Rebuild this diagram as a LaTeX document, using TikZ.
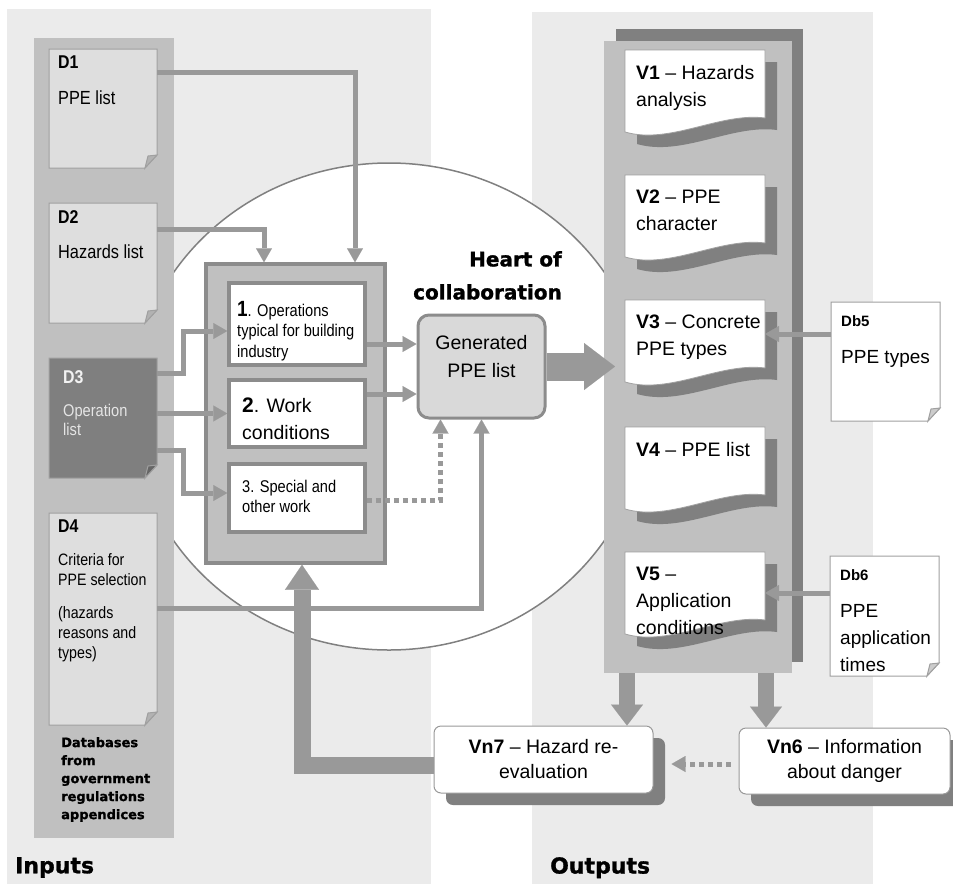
\documentclass[tikz,border=0pt]{standalone}
\usepackage{fontspec}
\setmainfont{Liberation Sans}
\newfontfamily\narrowfont{Liberation Sans}[FakeStretch=0.86]
\newfontfamily\heavyfont{DejaVu Sans Bold}[FakeBold=1.2]
\usetikzlibrary{arrows.meta,shadows}

\definecolor{panelgray}{HTML}{EBEBEB}
\definecolor{colgray}{HTML}{C0C0C0}
\definecolor{docgray}{HTML}{DEDEDE}
\definecolor{darkdoc}{HTML}{7F7F7F}
\definecolor{edgegray}{HTML}{A0A0A0}
\definecolor{framegray}{HTML}{8C8C8C}
\definecolor{arrowgray}{HTML}{999999}
\definecolor{shadegray}{HTML}{808080}
\definecolor{gengray}{HTML}{D9D9D9}

\tikzset{
  pagebox/.style={inner sep=0pt, outer sep=0pt},
  pageedge/.style={draw=edgegray, line width=1pt},
  vedge/.style={draw=edgegray, line width=0.8pt, fill=white},
  dlabel/.style={anchor=north west, inner sep=0pt, font=\narrowfont\bfseries\fontsize{18.5}{19}\selectfont},
  dbody/.style={anchor=north west, inner sep=0pt, align=left, font=\narrowfont\fontsize{19}{21}\selectfont},
  vtext/.style={anchor=north west, inner sep=0pt, align=left, font=\fontsize{19.5}{27}\selectfont},
  dblabel/.style={anchor=north west, inner sep=0pt, font=\bfseries\fontsize{15}{17}\selectfont},
  dbbody/.style={anchor=north west, inner sep=0pt, align=left, font=\fontsize{19}{27}\selectfont},
  opsbox/.style={draw=framegray, fill=colgray, line width=3.5pt, inner sep=0pt},
  stepbox/.style={draw=framegray, fill=white, line width=3.5pt, inner sep=0pt},
  genbox/.style={draw=framegray, fill=gengray, line width=3pt, rounded corners=11pt, inner sep=0pt},
  vnbox/.style={draw=arrowgray, fill=white, line width=1pt, rounded corners=7pt, align=center,
    font=\fontsize{19.5}{25}\selectfont,
    drop shadow={shadow xshift=12pt, shadow yshift=-12pt, fill=shadegray, opacity=1}},
  heavy/.style={anchor=north west, inner sep=0pt, font=\heavyfont\fontsize{22}{24}\selectfont},
  feed/.style={draw=arrowgray, line width=5pt,
    -{Triangle[length=14pt, width=16pt, line width=0.1pt]}},
  dotfeed/.style={feed, dash pattern=on 5pt off 4pt},
  bigarrow/.style={draw=arrowgray, line width=28pt,
    -{Triangle[length=31pt, width=47pt, line width=0.1pt]}},
  droparrow/.style={draw=arrowgray, line width=16pt,
    -{Triangle[length=21pt, width=32pt, line width=0.1pt]}},
  backarrow/.style={draw=arrowgray, line width=17pt,
    -{Triangle[length=25pt, width=34pt, line width=0.1pt]}},
}

% page with a turned-down corner, drawn over an empty node
\newcommand\foldpage[2]{%
  \filldraw[pageedge, fill=#2] (#1.north west) -- (#1.north east) -- ([yshift=13pt]#1.south east)
    -- ([xshift=-12pt]#1.south east) -- (#1.south west) -- cycle;
  \filldraw[pageedge, fill=#2!80!black] ([yshift=13pt]#1.south east)
    -- ([xshift=-9pt,yshift=12pt]#1.south east) -- ([xshift=-12pt]#1.south east) -- cycle;
}

% output sheet with a wavy lower edge and a dark offset copy behind it
\newcommand\wavepage[4]{%
  \begin{scope}[shift={(#2,#3)}]
    \fill[shadegray] (12,12) -- (152,12) -- (152,80) .. controls (107,74) and (57,107) .. (12,94) -- cycle;
    \filldraw[vedge] (0,0) -- (140,0) -- (140,68) .. controls (95,62) and (45,95) .. (0,82) -- cycle;
    \node[pagebox, minimum width=140, minimum height=82] (#1) at (70,41) {};
    \node[vtext] (#1t) at (11,15) {#4};
  \end{scope}}

\begin{document}
\begin{tikzpicture}[x=1pt, y=-1pt]
  \useasboundingbox (0,0) rectangle (953,884);

  % the two bands
  \fill[panelgray] (7,9) rectangle (431,884);
  \fill[panelgray] (532,12) rectangle (873,884);

  % heart of collaboration
  \filldraw[fill=white, draw=shadegray, line width=1.5pt] (389,406.5) ellipse [x radius=258, y radius=243.5];

  % inputs
  \fill[colgray] (34,38) rectangle (174,838);
  \node[pagebox, minimum width=108, minimum height=119] (d1) at (103,108.5) {};
  \foldpage{d1}{docgray}
  \node[dlabel] (d1lab) at (58,56) {D1};
  \node[dbody] (d1txt) at (58,91) {PPE list};

  \node[pagebox, minimum width=108, minimum height=120] (d2) at (103,263) {};
  \foldpage{d2}{docgray}
  \node[dlabel] (d2lab) at (58,210) {D2};
  \node[dbody] (d2txt) at (58,245) {Hazards list};

  \node[pagebox, minimum width=108, minimum height=120] (d3) at (103,418) {};
  \foldpage{d3}{darkdoc}
  \node[dlabel, text=white!95!black] (d3lab) at (63,370) {D3};
  \node[dbody, text=white!90!black, font=\narrowfont\fontsize{17}{19}\selectfont] (d3txt) at (63,404) {Operation\\list};

  \node[pagebox, minimum width=108, minimum height=212] (d4) at (103,619) {};
  \foldpage{d4}{docgray}
  \node[dlabel] (d4lab) at (58,520) {D4};
  \node[dbody, font=\narrowfont\fontsize{16.5}{20}\selectfont] (d4txt) at (58,553)
    {Criteria for\\PPE selection\\[13pt](hazards\\reasons and\\types)};

  \node[anchor=north west, inner sep=0pt, align=left, font=\heavyfont\fontsize{13}{18}\selectfont] (dbnote) at (61,737)
    {Databases\\from\\government\\regulations\\appendices};

  % outputs
  \fill[shadegray] (616,29) rectangle (803,662);
  \node[pagebox, fill=colgray, minimum width=188, minimum height=632] (outcol) at (698,357) {};
  \wavepage{v1}{625}{50}{\textbf{V1} -- Hazards\\analysis}
  \wavepage{v2}{625}{175}{\textbf{V2} -- PPE\\character}
  \wavepage{v3}{625}{300}{\textbf{V3} -- Concrete\\PPE types}
  \wavepage{v4}{625}{427}{\textbf{V4} -- PPE list}
  \wavepage{v5}{625}{552}{\textbf{V5} --\\Application\\conditions}

  \node[pagebox, minimum width=109, minimum height=119] (db5) at (885.5,361.5) {};
  \foldpage{db5}{white}
  \node[dblabel] (db5lab) at (841,315) {Db5};
  \node[dbbody] (db5txt) at (841,350) {PPE types};

  \node[pagebox, minimum width=109, minimum height=120] (db6) at (884.5,616) {};
  \foldpage{db6}{white}
  \node[dblabel] (db6lab) at (840,569) {Db6};
  \node[dbbody] (db6txt) at (840,604) {PPE\\application\\times};

  % operations block
  \node[opsbox, minimum width=179, minimum height=299] (ops) at (295.5,413.5) {};
  \node[stepbox, minimum width=136, minimum height=82] (box1) at (297,324) {};
  \node[stepbox, minimum width=136, minimum height=67] (box2) at (297,413.5) {};
  \node[stepbox, minimum width=136, minimum height=68] (box3) at (297,498) {};
  \node[anchor=north west, inner sep=0pt, align=left, font=\narrowfont\fontsize{17}{20.5}\selectfont] (box1t) at (237,301)
    {{\bfseries\fontsize{22}{20.5}\selectfont 1}. Operations\\typical for building\\industry};
  \node[anchor=north west, inner sep=0pt, align=left, font=\fontsize{19.5}{27}\selectfont] (box2t) at (242,398)
    {{\bfseries\fontsize{21}{27}\selectfont 2}. Work\\conditions};
  \node[anchor=north west, inner sep=0pt, align=left, font=\narrowfont\fontsize{17}{20}\selectfont] (box3t) at (242,480)
    {3. Special and\\other work};

  \node[genbox, minimum width=127, minimum height=103] (gen) at (481.5,366.5) {};
  \node[align=center, inner sep=0pt, font=\fontsize{19.5}{28}\selectfont] (gentxt) at (481.5,357) {Generated\\PPE list};

  \node[anchor=north east, inner sep=0pt, align=right, font=\heavyfont\fontsize{20}{33}\selectfont] (heart) at (562,251)
    {Heart of\\collaboration};

  % evaluation boxes
  \node[vnbox, minimum width=219, minimum height=67] (vn7) at (543.5,759.5) {\textbf{Vn7} -- Hazard re-\\evaluation};
  \node[vnbox, minimum width=211, minimum height=66] (vn6) at (844.5,761) {\textbf{Vn6} -- Information\\about danger};

  % feeds into the operations block
  \draw[feed] ([yshift=-23pt]d1.north east) -| ([xshift=59.5pt]ops.north);
  \draw[feed] ([yshift=-26pt]d2.north east) -| ([xshift=-31.5pt]ops.north);
  \draw[feed] ([yshift=-15pt]d3.north east) -- ++(26,0) |- ([yshift=-7pt]box1.west);
  \draw[feed] (d3.east |- box2.west) -- (box2.west);
  \draw[feed] ([yshift=28pt]d3.south east) -- ++(26,0) |- ([yshift=5pt]box3.west);

  % into the generated list
  \coordinate (b1out) at ([yshift=-20pt]box1.east);
  \draw[feed] (b1out) -- (b1out -| gen.west);
  \coordinate (b2out) at ([yshift=19.5pt]box2.east);
  \draw[feed] (b2out) -- (b2out -| gen.west);
  \draw[dotfeed] ([yshift=-2pt]box3.east) -| ([xshift=-41pt]gen.south);
  \draw[feed] ([yshift=-95pt]d4.north east) -| (gen.south);

  \coordinate (gentip) at (615,366.5);
  \draw[bigarrow] (gen.east) -- (gentip);

  % databases into the outputs
  \coordinate (db5out) at ([yshift=27.5pt]db5.west);
  \draw[feed] (db5out) -- (db5out -| v3.east);
  \coordinate (db6out) at ([yshift=23pt]db6.west);
  \draw[feed] (db6out) -- (db6out -| v5.east);

  % outputs down to the evaluation boxes
  \coordinate (colL) at ([xshift=-71pt]outcol.south);
  \coordinate (colR) at ([xshift=68pt]outcol.south);
  \draw[droparrow] (colL) -- (colL |- vn7.north);
  \draw[droparrow] (colR) -- (colR |- vn6.north);

  \coordinate (vn6in) at ([xshift=-8pt,yshift=-3pt]vn6.west);
  \coordinate (vn7side) at ([xshift=18pt]vn7.east);
  \draw[dotfeed] (vn6in) -- (vn6in -| vn7side);

  % re-evaluation loop back into the operations
  \draw[backarrow] ([yshift=-5.5pt]vn7.west) -| ([xshift=6.5pt]ops.south);

  \node[heavy] (inputs) at (15,857) {Inputs};
  \node[heavy] (outputs) at (550,857) {Outputs};
\end{tikzpicture}
\end{document}
